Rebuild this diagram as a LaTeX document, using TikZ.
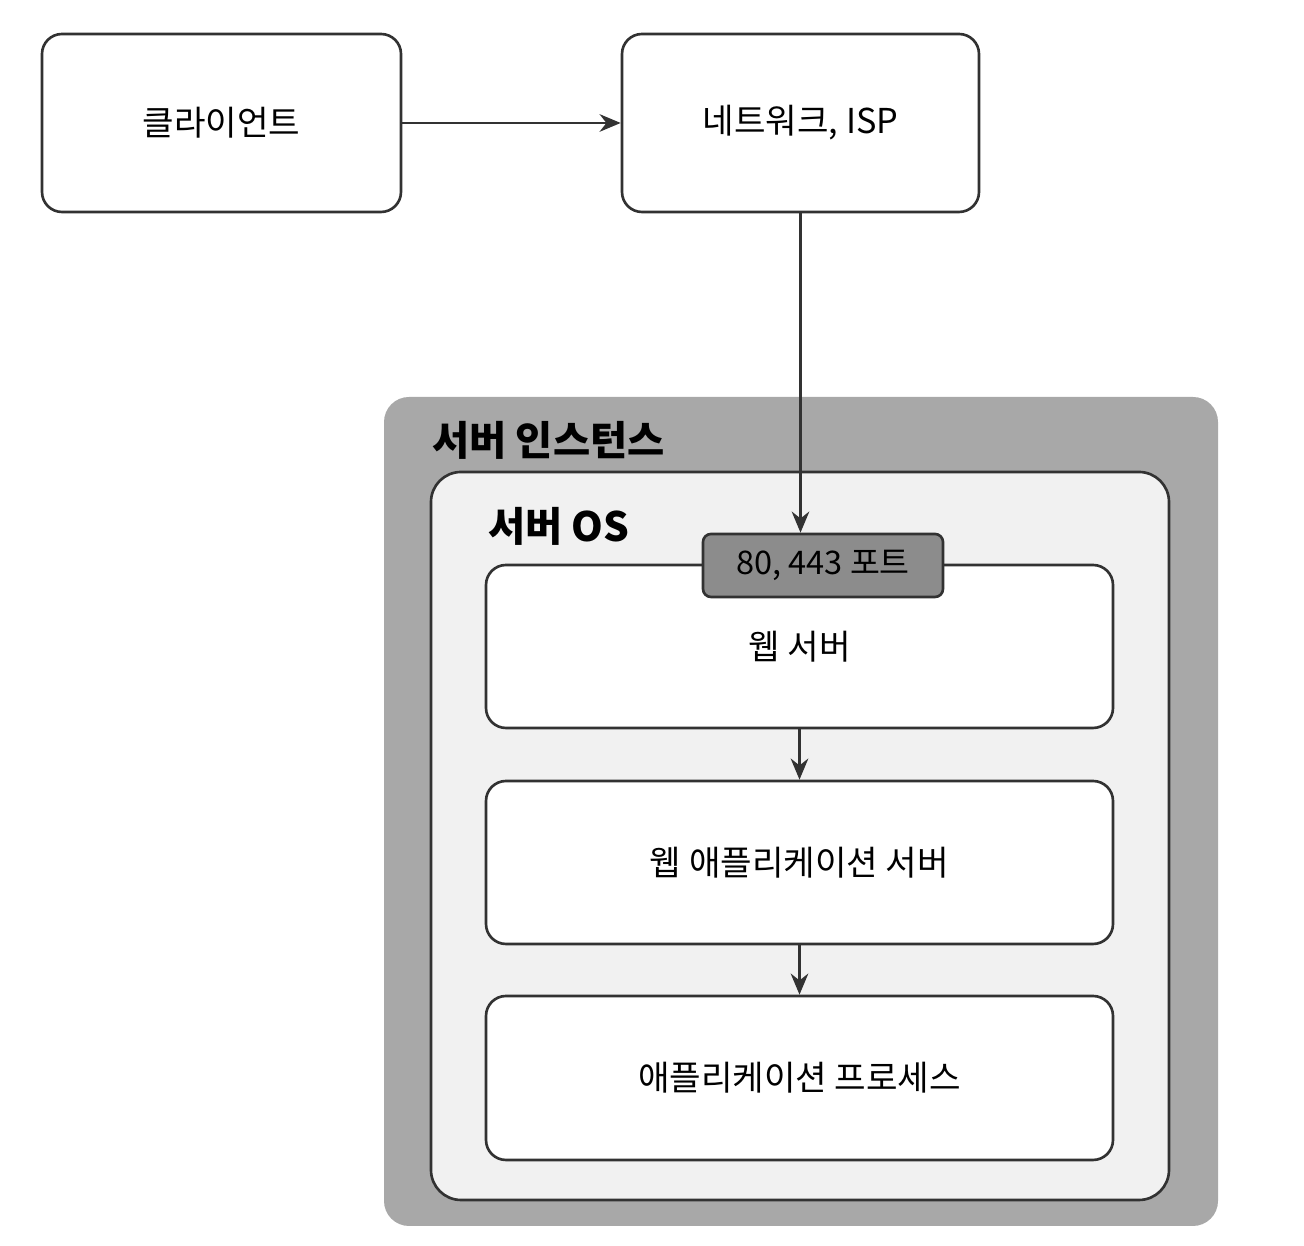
\documentclass[tikz,border=0pt]{standalone}
\usepackage{fontspec}
\setmainfont{Noto Sans CJK KR}
\definecolor{instgray}{RGB}{168, 168, 168}
\definecolor{osgray}{RGB}{241, 241, 241}
\definecolor{portgray}{RGB}{140, 140, 140}
\definecolor{linegray}{RGB}{50, 50, 50}
\usetikzlibrary{arrows.meta, positioning}

\begin{document}
\begin{tikzpicture}[
    box/.style={draw=linegray, line width=1.5pt, fill=white, rounded corners=0.4cm,
                font=\fontsize{19.5}{23}\selectfont},
    title/.style={anchor=west, font=\fontsize{23}{27}\selectfont\bfseries},
    flow/.style={draw=linegray, line width=1.5pt, -{Stealth[length=12pt, width=10pt]}}
]
    \useasboundingbox (0, 0) rectangle (26.08, 24.92);

    % Client and network
    \node[box, minimum width=7.18cm, minimum height=3.56cm] (client) at (4.43, 22.46) {클라이언트};
    \node[box, minimum width=7.14cm, minimum height=3.56cm] (net) at (16.01, 22.46) {네트워크, ISP};

    % Server instance
    \node[fill=instgray, rounded corners=0.5cm, minimum width=16.68cm,
          minimum height=16.58cm] (inst) at (16.02, 8.69) {};
    \node[title] (instlabel) at (8.52, 16.12) {서버 인스턴스};

    % Server OS
    \node[draw=linegray, line width=1.5pt, fill=osgray, rounded corners=0.6cm,
          minimum width=14.76cm, minimum height=14.56cm] (os) at (16.0, 8.2) {};
    \node[title] (oslabel) at (9.64, 14.4) {서버 OS};

    % Layers
    \node[box, minimum width=12.54cm, minimum height=3.26cm] (web) at (15.99, 11.99) {웹 서버};
    \node[box, minimum width=12.54cm, minimum height=3.26cm] (was) at (15.99, 7.67) {웹 애플리케이션 서버};
    \node[box, minimum width=12.54cm, minimum height=3.28cm] (proc) at (15.99, 3.36) {애플리케이션 프로세스};
    \node[box, fill=portgray, rounded corners=0.16cm, minimum width=4.8cm,
          minimum height=1.26cm, font=\fontsize{18.5}{22}\selectfont] (port) at (16.46, 13.61) {80, 443 포트};

    % Arrows
    \draw[flow] (client) -- (net);
    \draw[flow] (net.south) -- (net.south |- port.north);
    \draw[flow] (web) -- (was);
    \draw[flow] (was) -- (proc);
\end{tikzpicture}
\end{document}
